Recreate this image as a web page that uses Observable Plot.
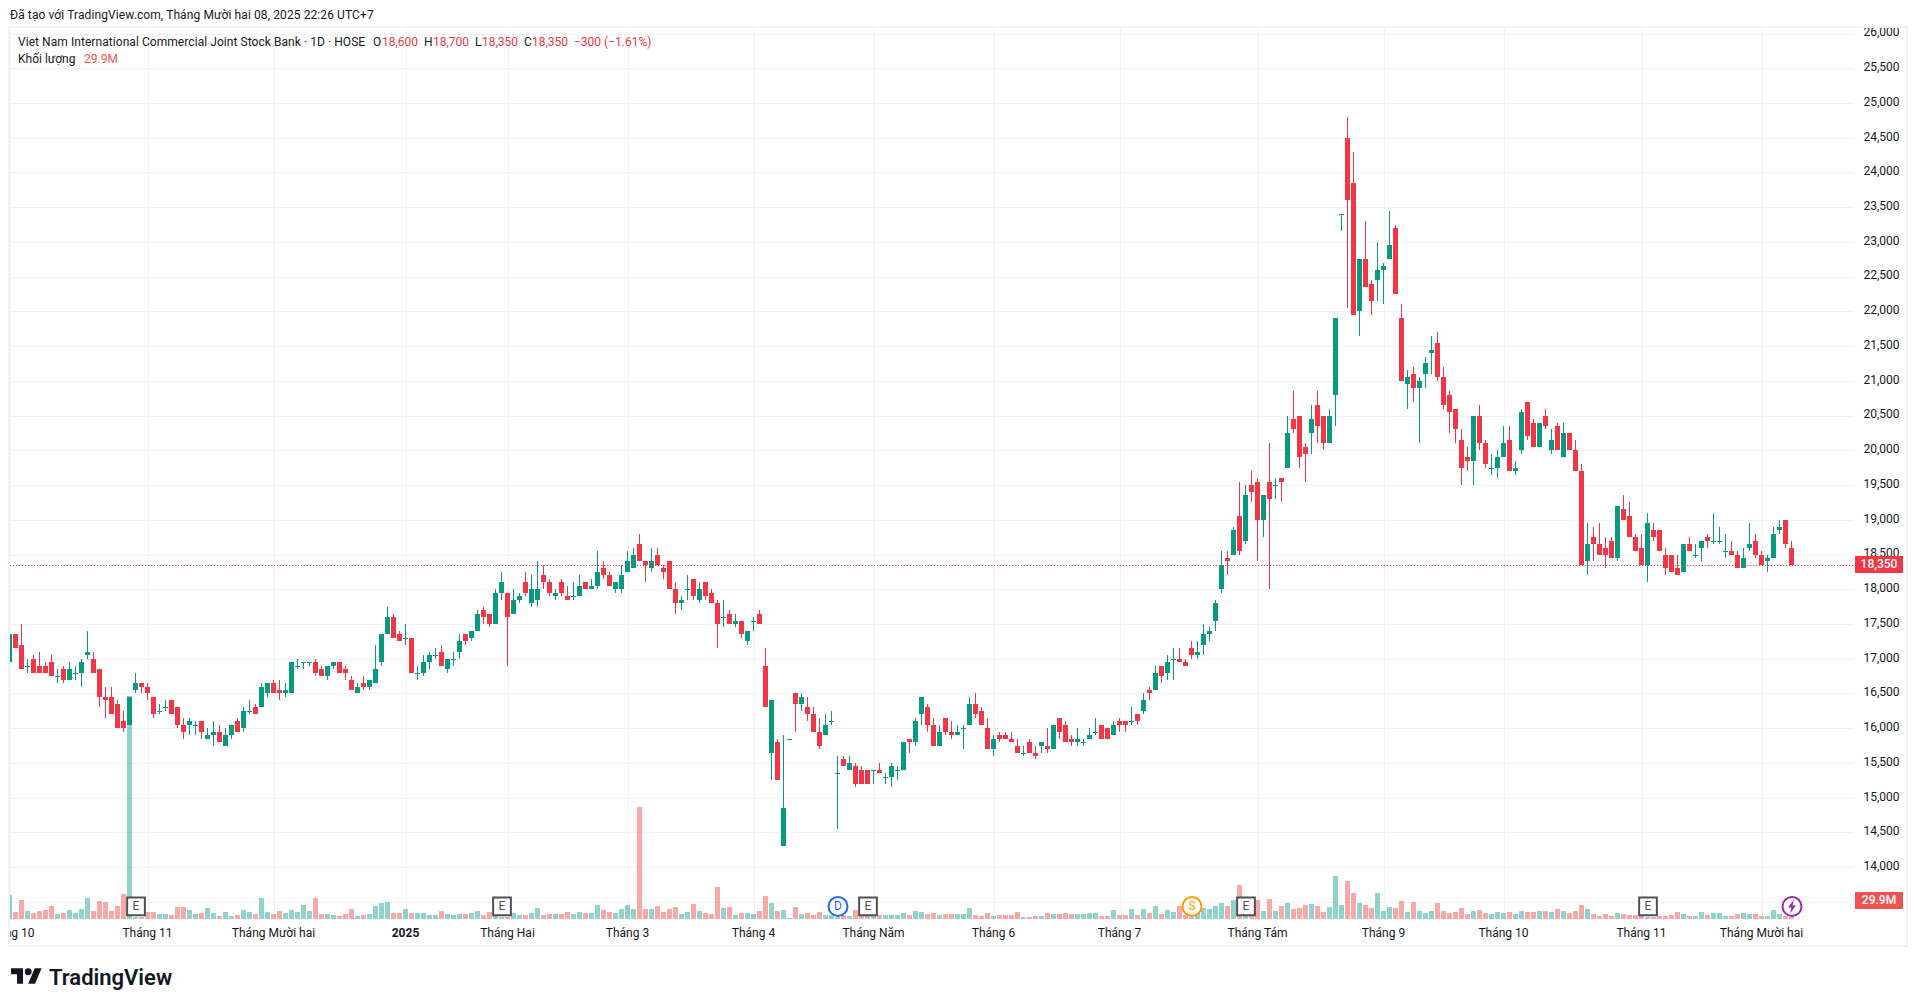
<!DOCTYPE html>
<html lang="vi"><head><meta charset="utf-8"><title>VIB</title>
<script src="https://cdn.jsdelivr.net/npm/d3@7"></script>
<script src="https://cdn.jsdelivr.net/npm/@observablehq/plot@0.6"></script>
<style>
html,body{margin:0;padding:0;background:#fff;overflow:hidden;width:1918px;height:1007px}
body{font-family:Roboto,sans-serif;font-size:12px;color:#131722;position:relative}
.t{position:absolute;white-space:pre;line-height:16px;height:16px}
.r{color:#f23645}
#chart{position:absolute;left:8px;top:26px;width:1896px;height:917px;border:2px solid #f1f2f4}
.tag{position:absolute;left:1855px;width:48px;height:17px;line-height:17px;text-align:center;color:#fff;font-size:12px;font-weight:500}
</style></head><body>
<div class="t" style="left:10px;top:7px;letter-spacing:.1px">Đã tạo với TradingView.com, Tháng Mười hai 08, 2025 22:26 UTC+7</div>
<div id="chart"></div>
<div class="t" style="left:18px;top:34px;letter-spacing:.06px">Viet Nam International Commercial Joint Stock Bank · 1D · HOSE</div>
<div class="t" style="left:373px;top:34px">O</div><div class="t r" style="left:382px;top:34px">18,600</div>
<div class="t" style="left:424px;top:34px">H</div><div class="t r" style="left:433px;top:34px">18,700</div>
<div class="t" style="left:475px;top:34px">L</div><div class="t r" style="left:482px;top:34px">18,350</div>
<div class="t" style="left:524px;top:34px">C</div><div class="t r" style="left:532px;top:34px">18,350</div>
<div class="t r" style="left:574px;top:34px">−300 (−1.61%)</div>
<div class="t" style="left:18px;top:51px">Khối lượng</div><div class="t" style="left:84px;top:51px;color:#ef5350">29.9M</div>
<div class="tag" id="priceTag" style="background:#f23645">18,350</div>
<div class="tag" id="volTag" style="background:#ef5350;top:892px">29.9M</div>
<svg style="position:absolute;left:11px;top:966px" width="31" height="20" viewBox="0 2 36 22"><path fill="#131722" d="M14 22H7V11H0V4h14v18zM28 22h-8l7.5-18h8L28 22z"/><circle fill="#131722" cx="20" cy="8" r="4"/></svg>
<div class="t" style="left:49px;top:965px;font-size:22px;line-height:26px;height:26px;font-weight:600;color:#131722">TradingView</div>
<script>
const opens=[16950,17350,17200,16900,17000,16900,16900,16950,16750,16850,
16700,16800,16800,17050,17000,16850,16450,16450,16350,16100,
16050,16550,16650,16600,16450,16250,16300,16400,16300,16050,
16050,16050,16100,15850,15900,15950,15750,15900,16100,16000,
16250,16300,16300,16500,16650,16550,16500,16500,16900,16950,
16950,16950,16850,16750,16900,16950,16850,16700,16500,16650,
16600,16650,16950,17350,17600,17350,17300,17300,16800,16800,
16950,17050,17100,16850,17000,17100,17350,17300,17400,17700,
17650,17500,17950,17950,17650,17850,18100,17800,17850,18200,
18100,17900,18100,17900,17900,17900,18100,18000,18050,18300,
18200,18000,18000,18250,18300,18650,18400,18300,18500,18300,
18400,18000,17800,18000,18150,17850,18100,17950,17800,17600,
17650,17500,17550,17250,17550,17650,16900,15650,15800,14300,
15850,16500,16350,16300,16200,15950,15900,16100,15350,15550,
15400,15450,15400,15400,15400,15400,15300,15300,15400,15400,
15850,15800,16200,16300,16050,15750,16150,15950,15900,16000,
16050,16350,16250,16000,15700,15900,15900,15850,15750,15650,
15800,15650,15750,15750,15700,16150,16050,15850,15800,15800,
15850,15950,16050,16000,15900,16100,16100,16100,16200,16250,
16550,16550,16900,16800,17000,17000,16950,17150,17050,17200,
17350,17550,18000,18450,18500,19050,18700,19500,19550,19000,
19550,19500,19600,19750,20450,20500,20050,20250,20650,20500,
20100,20800,23400,24500,23850,22000,22750,22400,22450,22600,
22750,23200,21900,20950,21100,20900,21100,21400,21550,21050,
20800,20600,20150,19900,19850,20500,20100,19750,19750,19900,
20150,19700,20000,20700,20400,20050,20500,20000,20350,19900,
20250,20000,19700,18400,18750,18650,18600,18700,18450,19150,
19050,18750,18600,18350,18850,18850,18500,18500,18300,18250,
18650,18500,18600,18750,18700,18700,18550,18550,18500,18300,
18600,18700,18500,18400,18450,18850,19000,18600];
const highs=[17350,17350,17500,17000,17050,17100,16950,17050,16850,16900,
16950,16900,17000,17400,17100,16850,16600,16600,16400,16250,
16450,16800,16650,16650,16450,16350,16400,16400,16300,16150,
16150,16100,16100,16000,16100,16050,16000,16050,16150,16300,
16400,16350,16650,16650,16700,16700,16650,16950,17000,16950,
16950,17000,16900,16900,16950,16950,16900,16750,16650,16750,
16700,17200,17350,17750,17650,17400,17500,17300,16900,17050,
17100,17150,17200,17000,17100,17350,17350,17400,17700,17750,
17650,18000,18250,17950,18000,17950,18250,18200,18400,18350,
18150,18000,18150,18050,18100,18200,18100,18150,18550,18400,
18250,18100,18350,18550,18600,18800,18400,18600,18600,18350,
18400,18100,17900,18200,18150,18100,18100,18000,17850,17850,
17700,17650,17550,17400,17600,17700,17150,16400,15850,15900,
15850,16500,16500,16450,16300,16150,16200,16250,15600,15600,
15600,15500,15450,15400,15400,15500,15350,15500,15450,15800,
15850,16150,16450,16350,16150,16050,16150,16100,16050,16050,
16450,16500,16300,16150,15900,15950,15950,15950,15850,15750,
15850,15750,15800,16000,16050,16150,16100,15900,16000,15850,
16000,16150,16050,16000,16100,16150,16100,16300,16200,16500,
16600,16900,16900,17050,17150,17150,17000,17250,17250,17500,
17450,17850,18550,18550,18900,19550,19500,19700,19600,19350,
20100,19600,19600,20500,20850,20500,20100,20650,20850,20500,
20600,21900,23400,24800,24300,22750,23300,22450,23000,22700,
23450,23250,22100,21150,21200,21050,21350,21650,21700,21200,
20850,20600,20300,20050,20500,20650,20150,19950,20000,20350,
20350,19850,20600,20700,20450,20400,20600,20300,20400,20400,
20250,20150,19800,18950,18900,18950,18750,18750,19200,19350,
19250,18800,18800,19100,18950,18850,18600,18500,18500,18650,
18750,18650,18700,18800,19100,18900,18800,18700,18550,18600,
18950,18800,18550,18500,18900,19000,19000,18700];
const lows=[16950,17150,16850,16800,16800,16800,16800,16750,16650,16650,
16700,16700,16600,17000,16800,16300,16150,16200,16000,15950,
16050,16500,16500,16400,16150,16200,16250,16200,16000,15850,
15900,15900,15850,15850,15750,15800,15750,15850,15950,15950,
16200,16200,16300,16450,16500,16400,16450,16500,16850,16850,
16900,16750,16750,16700,16850,16800,16700,16550,16500,16550,
16550,16650,16900,17350,17300,17250,17200,16800,16700,16750,
16850,17000,16900,16800,16900,17000,17200,17250,17400,17500,
17450,17500,17850,16900,17650,17800,17900,17750,17750,18000,
17900,17850,17900,17850,17850,17900,18000,18000,18000,18150,
18050,17950,17950,18250,18300,18400,18100,18250,18350,18150,
18000,17650,17700,17850,17850,17800,17850,17800,17150,17450,
17500,17450,17300,17200,17400,17500,16300,15250,15250,14300,
15850,15950,16250,16100,15950,15700,15900,16050,14550,15450,
15400,15150,15200,15200,15200,15350,15200,15150,15250,15400,
15650,15750,16050,15950,15750,15750,15900,15850,15900,15700,
16050,16150,16050,15700,15600,15800,15850,15800,15650,15600,
15650,15550,15650,15650,15700,15850,15800,15750,15750,15750,
15850,15900,15850,15850,15900,15950,15950,16050,16050,16200,
16400,16550,16650,16700,16700,16950,16900,17000,17000,17050,
17250,17400,17950,18200,18500,18500,18650,19250,18400,18750,
18000,19300,19250,19750,20250,19750,19550,19950,20100,20000,
20100,20350,23150,22050,21950,21650,22350,21950,22150,22100,
22750,22250,21000,20600,20700,20100,20900,21100,21000,20600,
20250,20100,19500,19700,19500,20000,19750,19650,19600,19900,
19700,19650,19950,20150,20050,20050,20300,19950,20000,19900,
20000,19700,18350,18200,18400,18500,18300,18450,18400,19000,
18750,18550,18350,18100,18700,18550,18200,18250,18200,18250,
18550,18450,18400,18600,18650,18650,18450,18500,18300,18300,
18550,18450,18350,18250,18450,18800,18600,18350];
const closes=[17350,17150,16850,16900,16800,16800,16800,16750,16750,16700,
16850,16800,16950,17100,16800,16450,16400,16200,16000,16000,
16450,16650,16600,16500,16200,16250,16300,16200,16050,15950,
16100,16050,15950,15900,15950,15800,15900,16050,15950,16250,
16250,16200,16600,16650,16500,16500,16550,16950,16900,16950,
16950,16800,16750,16900,16950,16800,16800,16550,16600,16600,
16700,16850,17350,17600,17300,17250,17300,16800,16800,16950,
17050,17050,16900,17000,17000,17250,17250,17400,17650,17600,
17500,17950,18100,17600,17850,17900,17950,18000,18000,18100,
17950,17950,17950,17850,17900,18050,18000,18050,18250,18200,
18050,18100,18200,18400,18500,18400,18350,18400,18350,18250,
18000,17800,17850,18000,17900,18000,17900,17800,17500,17600,
17500,17550,17350,17400,17550,17500,16300,16400,15250,14850,
15850,16350,16450,16200,15950,15750,16050,16100,15350,15450,
15500,15200,15200,15200,15400,15350,15300,15450,15400,15800,
15800,16100,16450,16050,15750,15950,15950,15900,15950,16000,
16350,16200,16050,15700,15850,15850,15850,15800,15650,15650,
15650,15600,15800,15700,16050,15950,15800,15800,15850,15800,
15900,15950,15850,15850,16050,16050,16050,16100,16100,16400,
16500,16800,16750,16950,17000,16950,16900,17050,17100,17350,
17400,17800,18350,18400,18850,18550,19350,19400,19000,19350,
19300,19500,19550,20250,20300,19900,19950,20450,20350,20100,
20500,21900,23400,23600,21950,22750,22350,22150,22600,22650,
22950,22250,21000,21050,20900,21000,21250,21450,21050,20650,
20550,20300,19750,19850,20500,20100,19800,19750,19900,20100,
19700,19750,20550,20200,20050,20400,20350,20150,20000,20250,
20000,19700,18350,18650,18650,18500,18500,18450,19200,19000,
18750,18550,18350,18950,18750,18550,18300,18250,18200,18650,
18550,18500,18700,18700,18700,18700,18550,18500,18300,18450,
18650,18500,18350,18450,18800,18900,18650,18350];
const volumesM=[360,110,285,120,95,120,135,195,75,95,
135,95,150,315,120,270,255,120,195,375,
3345,30,35,110,110,75,75,60,180,180,
135,75,95,165,90,45,105,45,60,135,
105,75,315,105,75,120,90,135,105,210,
120,315,75,75,60,45,75,150,45,60,
75,195,240,255,90,90,150,90,90,90,
60,60,120,75,60,75,75,90,120,60,
105,45,35,35,90,60,60,90,165,60,
75,75,75,105,75,105,90,90,210,135,
105,90,150,210,150,1680,150,150,195,105,
150,180,75,105,225,120,90,75,480,165,
180,60,90,90,75,120,345,240,120,135,
15,180,75,90,60,105,60,60,25,60,
45,135,45,45,45,60,60,60,60,90,
60,120,105,75,90,60,75,75,75,75,
165,60,45,90,45,60,60,60,105,30,
30,45,45,90,75,75,90,75,75,75,
90,90,45,45,135,60,60,150,60,150,
90,195,75,135,105,195,60,25,135,165,
150,195,240,195,285,510,60,60,285,120,
300,120,195,240,150,165,210,225,195,105,
180,645,210,570,390,240,210,165,390,120,
180,165,270,105,255,120,90,120,240,120,
90,105,165,75,120,135,90,75,105,90,
105,75,120,105,105,120,120,105,150,120,
90,120,210,150,75,45,75,45,90,75,
60,60,45,35,35,45,45,60,105,75,
45,45,105,60,90,90,45,45,75,90,
75,75,45,45,135,75,45,30];

const monthIdx=[0,23,44,83,103,124,144,164,185,208,229,249,272,292];
const monthNames=["Tháng 10","Tháng 11","Tháng Mười hai","Tháng Hai","Tháng 3","Tháng 4","Tháng Năm","Tháng 6","Tháng 7","Tháng Tám","Tháng 9","Tháng 10","Tháng 11","Tháng Mười hai"];
const yearIdx=[66], yearNames=["2025"];
const gridPrices=d3.range(13500,26001,500);
const axisPrices=d3.range(14000,26001,500);
const lastPrice=18350;
const eventIdx=[21,82,138,143,197,206,273,297];
const eventKinds=["E","E","D","E","S","E","E","B"];
const eventColors={E:"#4c4f57",D:"#2962ff",S:"#ff9800",B:"#9c27b0"};
const eventLevel=13442;
const volBase=13254, volUnit=0.96;
const UP="#089981",DOWN="#f23645",VUP="#26a69a",VDOWN="#ef5350",GRID="#f1f2f4",half=5/12;
const boltSymbol={draw(c){c.moveTo(2,-7);c.lineTo(-4,1);c.lineTo(-0.5,1);c.lineTo(-2,7);c.lineTo(4,-1);c.lineTo(0.5,-1);c.closePath();}};

const rows=opens.map((o,i)=>({i,o,h:highs[i],l:lows[i],c:closes[i],v:volumesM[i],up:closes[i]>=o}));
const bodies=rows.filter(d=>d.o!==d.c), dojis=rows.filter(d=>d.o===d.c);
const events=eventIdx.map((i,k)=>({i,k:eventKinds[k]}));
const nameOf=new Map(monthIdx.map((m,k)=>[m,monthNames[k]]));
const yearOf=new Map(yearIdx.map((m,k)=>[m,yearNames[k]]));

const chart=Plot.plot({
  width:1896,height:917,marginLeft:0,marginRight:52,marginTop:0,marginBottom:25,
  style:{background:"#fff",fontFamily:"Roboto,sans-serif",fontSize:"12px",color:"#131722"},
  x:{type:"linear",domain:[0,297],range:[-0.5,1781.5]},
  y:{type:"linear",domain:[volBase,26000],range:[891,5.5]},
  marks:[
    Plot.gridX({ticks:monthIdx.concat(yearIdx),stroke:GRID,strokeOpacity:1,shapeRendering:"crispEdges"}),
    Plot.gridY({ticks:gridPrices,stroke:GRID,strokeOpacity:1,shapeRendering:"crispEdges"}),
    Plot.axisX({ticks:monthIdx,tickFormat:d=>nameOf.get(d),tickSize:0,tickPadding:8,dx:-0.5,label:null,fill:"#131722"}),
    Plot.axisX({ticks:yearIdx,tickFormat:d=>yearOf.get(d),tickSize:0,tickPadding:8,dx:-0.5,label:null,fontWeight:"bold",fill:"#131722"}),
    Plot.axisY({anchor:"right",ticks:axisPrices,tickFormat:d3.format(","),tickSize:0,tickPadding:9,dy:-1.5,label:null,fill:"#131722"}),
    Plot.rect(rows,{x1:d=>d.i-half,x2:d=>d.i+half,y1:volBase,y2:d=>volBase+d.v*volUnit,fill:d=>d.up?VUP:VDOWN,fillOpacity:0.5,shapeRendering:"crispEdges",clip:true}),
    Plot.ruleX(rows,{x:"i",y1:"l",y2:"h",stroke:d=>d.up?UP:DOWN,strokeWidth:1,dx:-0.5,shapeRendering:"crispEdges",clip:true}),
    Plot.rect(bodies,{x1:d=>d.i-half,x2:d=>d.i+half,y1:"o",y2:"c",fill:d=>d.up?UP:DOWN,shapeRendering:"crispEdges",clip:true}),
    Plot.ruleY(dojis,{y:"c",x1:d=>d.i-half,x2:d=>d.i+half,stroke:UP,strokeWidth:1,shapeRendering:"crispEdges"}),
    Plot.ruleY([lastPrice],{stroke:DOWN,strokeWidth:1,strokeDasharray:"1.2 1.8"}),
    Plot.dot(events.filter(d=>d.k==="E"),{x:"i",y:eventLevel,symbol:"square",r:10,fill:"#fff",stroke:"#4c4f57",strokeWidth:2}),
    Plot.dot(events.filter(d=>d.k!=="E"),{x:"i",y:eventLevel,r:9.5,fill:"#fff",stroke:d=>eventColors[d.k],strokeWidth:2}),
    Plot.dot(events.filter(d=>d.k==="B"),{x:"i",y:eventLevel,symbol:boltSymbol,fill:d=>eventColors[d.k],stroke:"none"}),
    Plot.text(events.filter(d=>d.k!=="B"),{x:"i",y:eventLevel,text:"k",fill:d=>eventColors[d.k],fontSize:12,fontFamily:"Roboto"})
  ]
});
document.getElementById("chart").appendChild(chart);
const yS=chart.scale("y");
document.getElementById("priceTag").style.top=(28+yS.apply(lastPrice)-8.5)+"px";
</script>
</body></html>
